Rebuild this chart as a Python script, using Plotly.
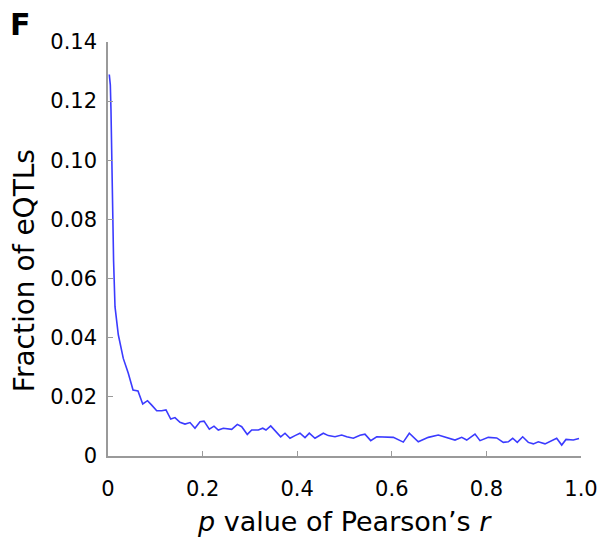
import plotly.graph_objects as go

# p value of Pearson's r (x) and fraction of eQTLs (y)
p_values = [0.0027, 0.0049, 0.0063, 0.0078, 0.0099, 0.0112, 0.0118, 0.0148, 0.0218, 0.0323,
            0.0429, 0.0529, 0.0634, 0.0734, 0.0835, 0.0924, 0.1030, 0.1135, 0.1226, 0.1326,
            0.1416, 0.1522, 0.1628, 0.1734, 0.1839, 0.1945, 0.2030, 0.2142, 0.2241, 0.2332,
            0.2438, 0.2615, 0.2734, 0.2827, 0.2945, 0.3038, 0.3178, 0.3271, 0.3340, 0.3440,
            0.3552, 0.3651, 0.3742, 0.3848, 0.3953, 0.4059, 0.4165, 0.4256, 0.4376, 0.4552,
            0.4658, 0.4799, 0.4941, 0.5047, 0.5186, 0.5328, 0.5433, 0.5554, 0.5681, 0.5856,
            0.6032, 0.6243, 0.6370, 0.6560, 0.6772, 0.6983, 0.7161, 0.7336, 0.7478, 0.7584,
            0.7759, 0.7865, 0.8040, 0.8218, 0.8357, 0.8463, 0.8556, 0.8653, 0.8767, 0.8886,
            0.8992, 0.9097, 0.9239, 0.9345, 0.9486, 0.9592, 0.9683, 0.9837, 0.9958]
fractions = [0.129, 0.1255, 0.117, 0.100, 0.087, 0.075, 0.066, 0.0505, 0.0410, 0.0330,
             0.0280, 0.0223, 0.0220, 0.0176, 0.0187, 0.0172, 0.0153, 0.0153, 0.0156, 0.0125,
             0.0130, 0.0114, 0.0108, 0.0113, 0.0094, 0.0116, 0.0118, 0.0091, 0.0101, 0.0088,
             0.0094, 0.0090, 0.0107, 0.0099, 0.0073, 0.0088, 0.0088, 0.0094, 0.0088, 0.0102,
             0.0082, 0.0065, 0.0077, 0.0060, 0.0069, 0.0077, 0.0062, 0.0077, 0.0060, 0.0077,
             0.0069, 0.0065, 0.0071, 0.0065, 0.0060, 0.0070, 0.0074, 0.0052, 0.0065, 0.0065,
             0.0063, 0.0047, 0.0077, 0.0048, 0.0063, 0.0071, 0.0063, 0.0054, 0.0063, 0.0054,
             0.0074, 0.0052, 0.0063, 0.0061, 0.0046, 0.0048, 0.0060, 0.0046, 0.0065, 0.0046,
             0.0041, 0.0048, 0.0041, 0.0048, 0.0060, 0.0037, 0.0056, 0.0054, 0.0059]

x_tickvals = [0, 0.2, 0.4, 0.6, 0.8, 1.0]
x_ticktext = ["0", "0.2", "0.4", "0.6", "0.8", "1.0"]
y_tickvals = [0, 0.02, 0.04, 0.06, 0.08, 0.10, 0.12, 0.14]
y_ticktext = ["0", "0.02", "0.04", "0.06", "0.08", "0.10", "0.12", "0.14"]

FONT = "DejaVu Sans, Liberation Sans, Arial, sans-serif"
AXIS_GREY = "#9a9a9a"

fig = go.Figure()
fig.add_trace(go.Scatter(
    x=p_values, y=fractions, mode="lines",
    line=dict(color="#3b3bff", width=1.6),
    showlegend=False, hoverinfo="skip",
))

fig.update_layout(
    width=598, height=539,
    margin=dict(l=108, r=17, t=42, b=83, autoexpand=False),
    paper_bgcolor="white", plot_bgcolor="white",
    font=dict(family=FONT, size=21, color="black"),
    xaxis=dict(
        range=[0, 1.0], tickvals=x_tickvals, ticktext=x_ticktext,
        showline=True, linecolor=AXIS_GREY, linewidth=1.5,
        ticks="inside", tickcolor=AXIS_GREY, ticklen=5, tickwidth=1,
        showgrid=False, zeroline=False, ticklabelstandoff=13,
        automargin=False, tickfont=dict(size=21, family=FONT),
    ),
    yaxis=dict(
        range=[0, 0.14], tickvals=y_tickvals, ticktext=y_ticktext,
        showline=True, linecolor=AXIS_GREY, linewidth=1.5,
        ticks="inside", tickcolor=AXIS_GREY, ticklen=5, tickwidth=1,
        showgrid=False, zeroline=False, ticklabelstandoff=5,
        automargin=False, tickfont=dict(size=21, family=FONT),
    ),
    annotations=[
        dict(text="<i>p</i> value of Pearson\u2019s <i>r</i>", xref="paper", yref="paper",
             x=0.5, y=-0.159, xanchor="center", yanchor="middle", showarrow=False,
             font=dict(size=27, family=FONT)),
        dict(text="Fraction of eQTLs", xref="paper", yref="paper",
             x=-0.175, y=0.447, xanchor="center", yanchor="middle", textangle=-90,
             showarrow=False, font=dict(size=28, family=FONT)),
        dict(text="<b>F</b>", xref="paper", yref="paper",
             x=-0.186, y=1.043, xanchor="center", yanchor="middle", showarrow=False,
             font=dict(size=30, family=FONT)),
    ],
)

fig.write_html("out.html")
